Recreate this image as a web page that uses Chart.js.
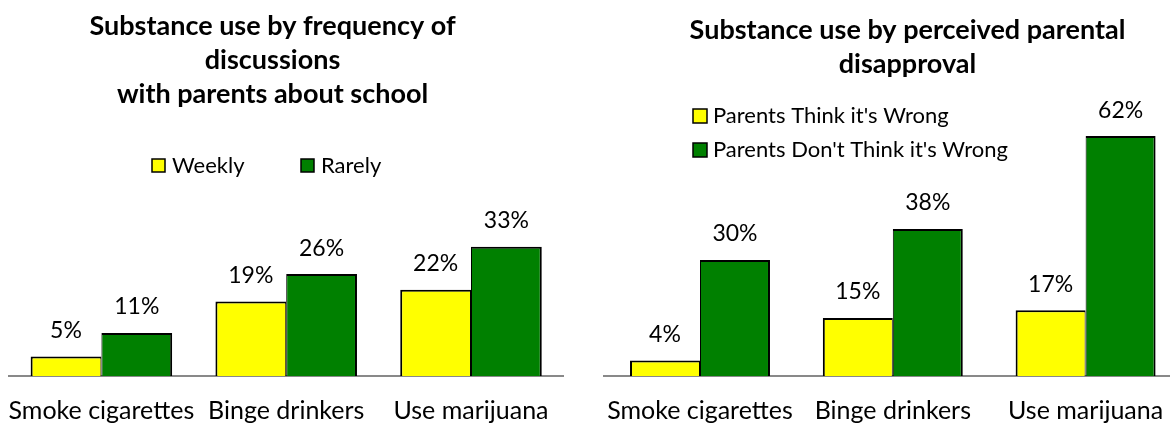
<!DOCTYPE html>
<html><head><meta charset="utf-8">
<script src="https://cdn.jsdelivr.net/npm/chart.js@4.4.1/dist/chart.umd.min.js"></script>
<style>
html,body{margin:0;padding:0;background:#fff;width:1170px;height:424px;overflow:hidden;position:relative}
canvas{position:absolute;top:0}
#c1{left:0}
#c2{left:585px}
</style></head><body>
<canvas id="c1" width="585" height="424"></canvas>
<canvas id="c2" width="600" height="424"></canvas>
<script>
// ---- data ----
const categories = ['Smoke cigarettes', 'Binge drinkers', 'Use marijuana'];

const title1 = ['Substance use by frequency of', 'discussions', 'with parents about school'];
const weeklyLabel = 'Weekly';
const rarelyLabel = 'Rarely';
const weeklyValues = [5, 19, 22];
const rarelyValues = [11, 26, 33];

const title2 = ['Substance use by perceived parental', 'disapproval'];
const thinkWrongLabel = "Parents Think it's Wrong";
const notWrongLabel = "Parents Don't Think it's Wrong";
const thinkWrongValues = [4, 15, 17];
const notWrongValues = [30, 38, 62];

const valueSuffix = '%';

// ---- styling ----
const FONT = 'Lato, "Open Sans", sans-serif';
const YELLOW = '#FFFF00';
const GREEN = '#008000';

const valueLabels = {
  id: 'valueLabels',
  afterDatasetsDraw(chart, args, opts) {
    const ctx = chart.ctx;
    ctx.save();
    ctx.font = opts.size + 'px ' + FONT;
    ctx.fillStyle = '#000';
    ctx.textAlign = 'center';
    ctx.textBaseline = 'alphabetic';
    chart.data.datasets.forEach((ds, di) => {
      const meta = chart.getDatasetMeta(di);
      meta.data.forEach((bar, i) => {
        ctx.fillText(ds.data[i] + valueSuffix, bar.x, bar.y - opts.gap);
      });
    });
    ctx.restore();
  }
};

const boxLegend = {
  id: 'boxLegend',
  afterDraw(chart, args, opts) {
    const ctx = chart.ctx;
    ctx.save();
    ctx.font = opts.size + 'px ' + FONT;
    ctx.textBaseline = 'middle';
    ctx.textAlign = 'left';
    chart.data.datasets.forEach((ds, i) => {
      const x = opts.x[i], y = opts.y[i], b = opts.box;
      ctx.fillStyle = ds.backgroundColor;
      ctx.fillRect(x, y - b / 2, b, b);
      ctx.strokeStyle = '#000';
      ctx.lineWidth = 1.5;
      ctx.strokeRect(x, y - b / 2, b, b);
      ctx.fillStyle = '#000';
      ctx.fillText(ds.label, x + b + opts.gap, y + opts.dy);
    });
    ctx.restore();
  }
};

const titleShift = {
  id: 'titleShift',
  afterLayout(chart, args, opts) {
    const t = chart.titleBlock;
    if (t && opts.dx) { t.left += opts.dx; t.right += opts.dx; }
  }
};

function build(canvasId, cfg) {
  return new Chart(document.getElementById(canvasId), {
    type: 'bar',
    data: {
      labels: categories,
      datasets: [
        { label: cfg.labels[0], data: cfg.values[0], backgroundColor: YELLOW, borderColor: '#000',
          borderWidth: { top: 2, left: 2, right: 1, bottom: 0 }, borderSkipped: 'start',
          categoryPercentage: cfg.catPct, barPercentage: 1 },
        { label: cfg.labels[1], data: cfg.values[1], backgroundColor: GREEN, borderColor: '#000',
          borderWidth: { top: 2, left: 1, right: 2, bottom: 0 }, borderSkipped: 'start',
          categoryPercentage: cfg.catPct, barPercentage: 1 }
      ]
    },
    options: {
      responsive: false,
      animation: false,
      devicePixelRatio: 1,
      layout: { padding: { left: cfg.padL, right: cfg.padR, top: 0, bottom: -22 } },
      plugins: {
        legend: { display: false },
        tooltip: { enabled: false },
        title: {
          display: true, text: cfg.title, color: '#000',
          font: { family: FONT, size: 27, weight: 'bold', lineHeight: 34 / 27 },
          padding: { top: cfg.titleTop, bottom: 0 }
        },
        titleShift: { dx: cfg.titleDx },
        valueLabels: { size: 23, gap: 18.5 },
        boxLegend: cfg.legend
      },
      scales: {
        x: {
          grid: { display: false, drawTicks: false },
          border: { display: true, color: '#898989', width: 2 },
          ticks: { color: '#000', font: { family: FONT, size: 25, lineHeight: 70 / 25 }, padding: 0, maxRotation: 0, autoSkip: false }
        },
        y: { display: false, min: 0, max: cfg.yMax }
      }
    },
    plugins: [titleShift, valueLabels, boxLegend]
  });
}

build('c1', {
  labels: [weeklyLabel, rarelyLabel],
  values: [weeklyValues, rarelyValues],
  title: title1,
  titleTop: 9,
  titleDx: -13.7,
  padL: 9, padR: 21.6,
  catPct: 0.766,
  yMax: 67.6,
  legend: { x: [152, 301], y: [165.5, 165.5], box: 13, gap: 7, size: 22, dy: 0 }
});

build('c2', {
  labels: [thinkWrongLabel, notWrongLabel],
  values: [thinkWrongValues, notWrongValues],
  title: title2,
  titleTop: 13.5,
  titleDx: 14.7,
  padL: 18.6, padR: 3,
  catPct: 0.726,
  yMax: 76.1,
  legend: { x: [108, 108], y: [116, 150], box: 14, gap: 6, size: 22, dy: 0 }
});
</script>
</body></html>
